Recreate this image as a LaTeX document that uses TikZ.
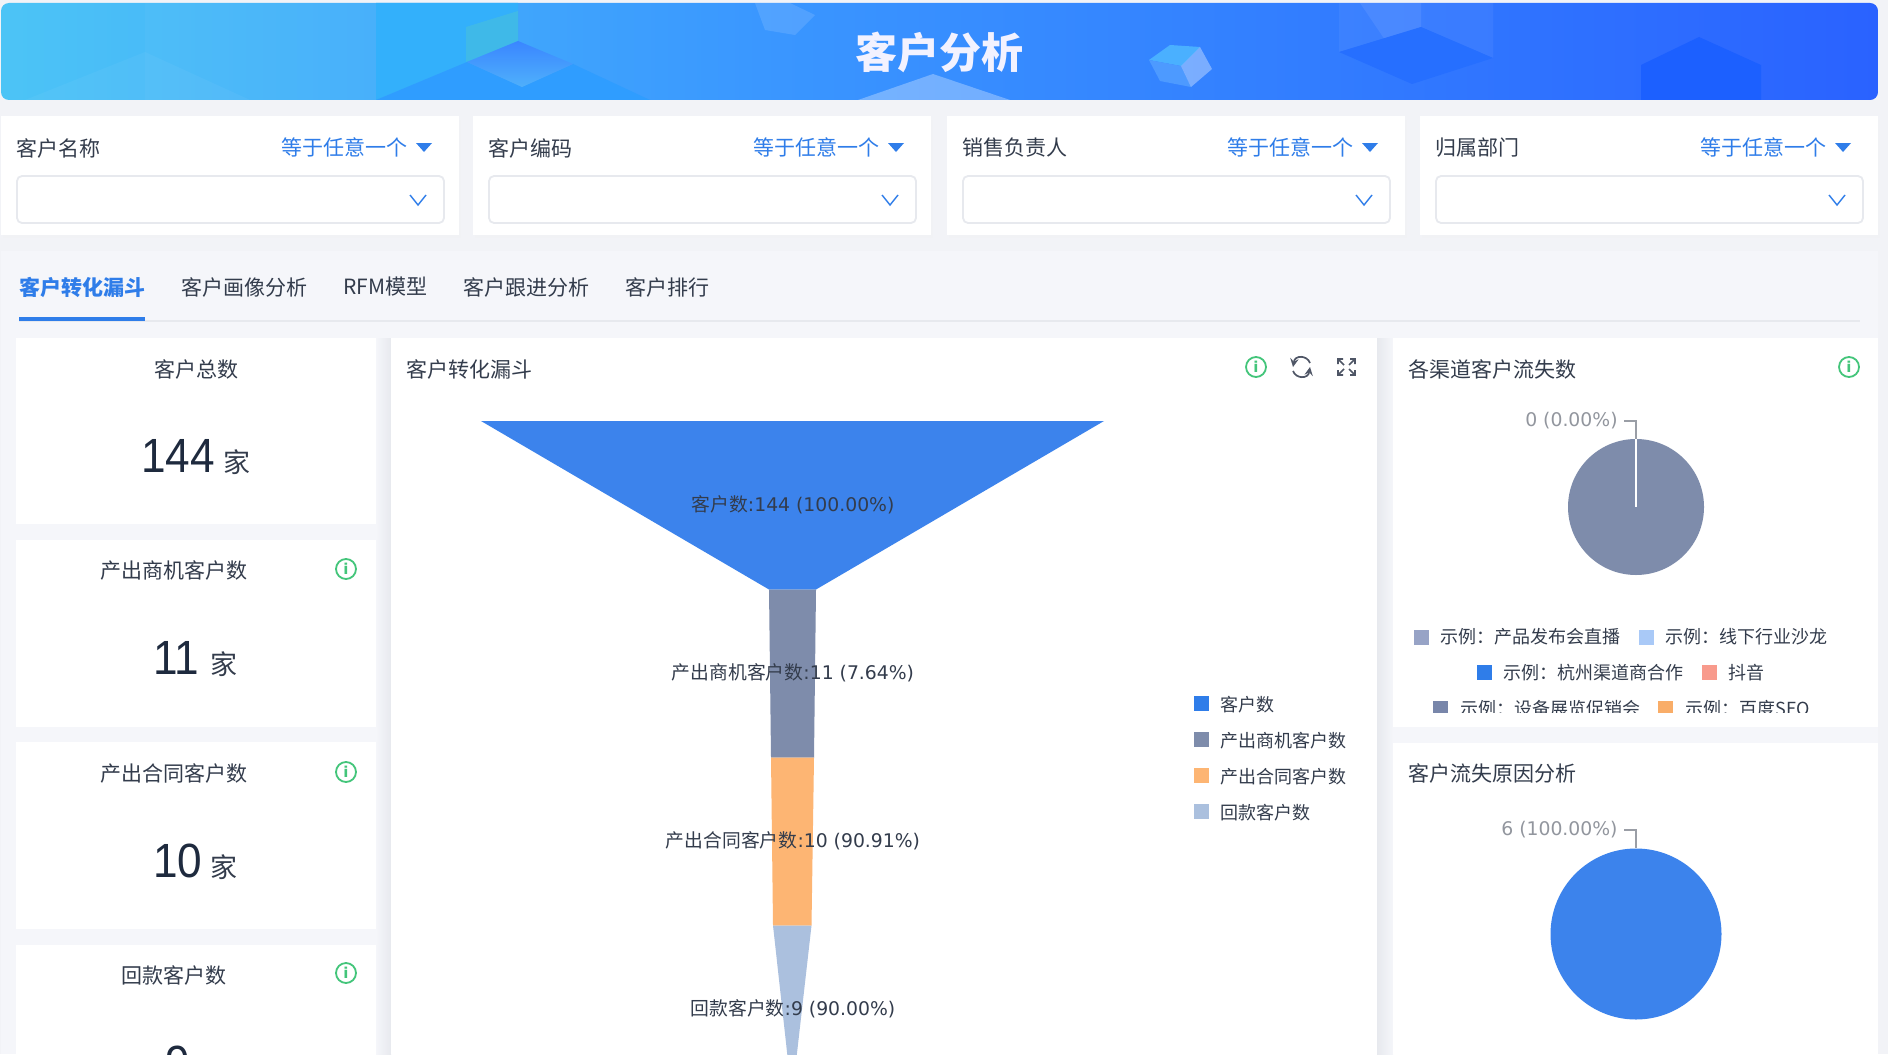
\documentclass[tikz,border=0pt]{standalone}
\usepackage{fontspec}
\usetikzlibrary{positioning}
\newfontfamily\cjk{Noto Sans CJK SC}
\newfontfamily\dejav{DejaVu Sans}
\newfontfamily\numf{Liberation Sans}
\newcommand{\fs}[1]{\fontsize{#1}{#1}\selectfont}
\definecolor{pagebg}{HTML}{F2F3F7}
\definecolor{panelbg}{HTML}{F5F6FA}
\definecolor{edgegray}{HTML}{E7E9EE}
\definecolor{ink}{HTML}{333C4C}
\definecolor{inkdark}{HTML}{1E2A3E}
\definecolor{toolgray}{HTML}{4F5666}
\definecolor{linkblue}{HTML}{2F7DE9}
\definecolor{funA}{HTML}{3C83EC}
\definecolor{funB}{HTML}{7E8CAB}
\definecolor{funC}{HTML}{FDB573}
\definecolor{funD}{HTML}{ABC0DE}
\definecolor{okgreen}{HTML}{43C57A}
\definecolor{leadgray}{HTML}{9A9EA6}
\definecolor{hdA}{HTML}{4CC4F6}
\definecolor{hdB}{HTML}{3A97FF}
\definecolor{hdC}{HTML}{2A62FF}
\definecolor{hdBand}{HTML}{33B0FB}
\definecolor{hdGreen}{HTML}{48C0DC}
\definecolor{hdLow}{HTML}{2F9DFF}
\definecolor{hdDiaA}{HTML}{3A86FF}
\definecolor{hdDiaB}{HTML}{4FB0FB}
\definecolor{hdHex}{HTML}{266FFF}
\definecolor{hdHouse}{HTML}{1C60FF}
\definecolor{hdCubeA}{HTML}{4AB0FF}
\definecolor{hdCubeB}{HTML}{4D9AFF}
\tikzset{
	card/.style={fill=white,draw=none},
	ttl/.style={font=\cjk\fs{10.5},text=ink,inner sep=0pt},
	lgd/.style={font=\cjk\fs{9},text=ink,inner sep=0pt,anchor=west},
	chartlbl/.style={font=\fs{9.4},text=ink,inner sep=0pt},
	pielbl/.style={font=\dejav\fs{9.4},text=leadgray!95!black,inner sep=0pt,anchor=east},
	bignum/.style={font=\numf\fs{24},text=inkdark,inner sep=0pt,anchor=base west,transform shape,xscale=.92},
	unitlbl/.style={font=\cjk\fs{13.5},text=ink,inner sep=0pt,anchor=base west},
	infoicon/.style={circle,draw=okgreen,line width=.9pt,minimum size=10pt,inner sep=0pt,text=okgreen,font=\dejav\bfseries\fs{7.5}},
	swatch/.style={minimum size=7.5pt,inner sep=0pt,anchor=west},
	toolline/.style={draw=toolgray,line width=.85pt}
}
\begin{document}
\begin{tikzpicture}[x=.5pt,y=-.5pt]
	\useasboundingbox (0,0) rectangle (1888,1054);
	\clip (0,0) rectangle (1888,1054);
	\fill[pagebg] (0,0) rectangle (1888,1054);
	\fill[panelbg] (1,251) rectangle (1878,1054);

	\begin{scope}
		\clip[rounded corners=4pt] (1,3) rectangle (1878,100);
		\shade[left color=hdA,right color=hdB] (1,3) rectangle (760,100);
		\shade[left color=hdB,right color=hdC] (760,3) rectangle (1878,100);
		\fill[white,opacity=.04] (25,100) -- (145,52) -- (250,100) -- cycle;
		\fill[white,opacity=.03] (145,3) rectangle (376,100);
		\fill[hdBand] (376,3) -- (518,3) -- (518,41) -- (376,100) -- cycle;
		\fill[hdGreen,opacity=.6] (466,27) -- (518,11) -- (518,41) -- (466,62) -- cycle;
		\fill[hdLow] (376,100) -- (467,62) -- (522,87) -- (573,64) -- (650,100) -- cycle;
		\shade[top color=hdDiaA,bottom color=hdDiaB] (518,41) -- (573,64) -- (522,87) -- (467,62) -- cycle;
		\fill[white,opacity=.12] (755,3) -- (790,3) -- (815,15) -- (795,35) -- (765,30) -- cycle;
		\fill[white,opacity=.3] (858,100) -- (933,74) -- (1010,100) -- cycle;
		\fill[hdCubeA] (1149,60) -- (1170,45) -- (1200,47) -- (1181,66) -- cycle;
		\fill[hdCubeB] (1149,60) -- (1181,66) -- (1191,87) -- (1160,81) -- cycle;
		\fill[white,opacity=.35] (1200,47) -- (1212,69) -- (1191,87) -- (1181,66) -- cycle;
		\fill[white,opacity=.05] (1339,52) -- (1339,3) -- (1493,3) -- (1493,58) -- (1421,27) -- cycle;
		\fill[white,opacity=.08] (1360,3) -- (1421,3) -- (1421,27) -- (1385,40) -- cycle;
		\fill[hdHex] (1339,52) -- (1421,27) -- (1493,58) -- (1412,84) -- cycle;
		\fill[hdHouse] (1641,100) -- (1641,65) -- (1699,37) -- (1761,65) -- (1761,100) -- cycle;
	\end{scope}
	\node[font=\cjk\bfseries\fs{21},text=white!95!blue,inner sep=0pt] (pagetitle) at (939,52) {客户分析};

	\foreach \cx/\lab/\n in {1/客户名称/a,473/客户编码/b,947/销售负责人/c,1420/归属部门/d}{
		\fill[edgegray!60] (\cx+2,120) rectangle (\cx+460,238);
		\fill[card] (\cx,116) rectangle (\cx+458,235);
		\node[ttl,anchor=west] (flt\n) at (\cx+15,148) {\lab};
		\node[ttl,anchor=west,text=linkblue] (mode\n) at (\cx+280,147) {等于任意一个};
		\fill[linkblue] (\cx+415,143) -- (\cx+431,143) -- (\cx+423,152) -- cycle;
		\draw[edgegray,line width=.9pt,fill=white,rounded corners=2.5pt] (\cx+16,176) rectangle (\cx+443,223);
		\draw[linkblue,line width=.7pt] (\cx+409,195) -- (\cx+417,205) -- (\cx+425,195);
	}

	\node[ttl,anchor=west,text=linkblue,font=\cjk\bfseries\fs{10.5}] (tabA) at (19,287) {客户转化漏斗};
	\node[ttl,anchor=west] (tabB) at (181,287) {客户画像分析};
	\node[ttl,anchor=west] (tabC) at (343,287) {RFM模型};
	\node[ttl,anchor=west] (tabD) at (463,287) {客户跟进分析};
	\node[ttl,anchor=west] (tabE) at (625,287) {客户排行};
	\fill[edgegray] (19,320) rectangle (1860,322);
	\fill[linkblue] (19,317) rectangle (145,321);

	\fill[card] (16,338) rectangle (376,524);
	\fill[card] (16,540) rectangle (376,727);
	\fill[card] (16,742) rectangle (376,929);
	\fill[card] (16,945) rectangle (376,1054);
	\shade[left color=panelbg,right color=edgegray] (376,338) rectangle (391,1054);
	\shade[left color=edgegray,right color=panelbg] (1377,338) rectangle (1393,1054);
	\fill[card] (391,338) rectangle (1377,1054);
	\fill[card] (1393,338) rectangle (1878,727);
	\fill[card] (1393,743) rectangle (1878,1054);

	\node[ttl] (kpiA) at (196,369) {客户总数};
	\node[bignum] (numA) at (141,472) {144};
	\node[unitlbl] (unitA) at (223,472) {家};
	\node[ttl] (kpiB) at (173.5,570) {产出商机客户数};
	\node[infoicon] (infoB) at (346,569) {i};
	\node[bignum] (numB) at (153,674) {11};
	\node[unitlbl] (unitB) at (210,674) {家};
	\node[ttl] (kpiC) at (173.5,773) {产出合同客户数};
	\node[infoicon] (infoC) at (346,772) {i};
	\node[bignum] (numC) at (153,877) {10};
	\node[unitlbl] (unitC) at (210,877) {家};
	\node[ttl] (kpiD) at (174,975) {回款客户数};
	\node[infoicon] (infoD) at (346,973) {i};
	\node[bignum] (numD) at (165,1079) {9};

	\node[ttl,anchor=west] (funtitle) at (406,369) {客户转化漏斗};
	\node[infoicon] (infoF) at (1256,367) {i};
	\draw[toolline,->,>=stealth] (1310,363) .. controls (1307,355) and (1295,355) .. (1293,367);
	\draw[toolline,->,>=stealth] (1293,371) .. controls (1296,379) and (1308,379) .. (1310,367);
	\draw[toolline] (1343,359) -- (1338,359) -- (1338,364) (1350,359) -- (1355,359) -- (1355,364)
		(1338,370) -- (1338,375) -- (1343,375) (1355,370) -- (1355,375) -- (1350,375)
		(1338,359) -- (1344,365) (1355,359) -- (1349,365) (1338,375) -- (1344,369) (1355,375) -- (1349,369);

	\fill[funA] (481,421) -- (1104,421) -- (816,589.5) -- (769,589.5) -- cycle;
	\fill[funB] (769,589.5) -- (816,589.5) -- (814,757.5) -- (771,757.5) -- cycle;
	\fill[funC] (771,757.5) -- (814,757.5) -- (811.5,925.5) -- (773,925.5) -- cycle;
	\fill[funD] (773,925.5) -- (811.5,925.5) -- (792,1097) -- cycle;
	\node[chartlbl] (funlblA) at (793,505) {{\cjk 客户数}{\dejav :144 (100.00\%)}};
	\node[chartlbl] (funlblB) at (793,672.5) {{\cjk 产出商机客户数}{\dejav :11 (7.64\%)}};
	\node[chartlbl] (funlblC) at (793,840.5) {{\cjk 产出合同客户数}{\dejav :10 (90.91\%)}};
	\node[chartlbl] (funlblD) at (793,1008.5) {{\cjk 回款客户数}{\dejav :9 (90.00\%)}};

	\foreach \ry/\col/\lab/\n in {703/linkblue/客户数/a,739/funB/产出商机客户数/b,775/funC/产出合同客户数/c,811/funD/回款客户数/d}{
		\node[swatch,fill=\col] (swF\n) at (1194,\ry) {};
		\node[lgd] (lgF\n) at (1220,\ry+2) {\lab};
	}

	\node[ttl,anchor=west] (churntitle) at (1408,369) {各渠道客户流失数};
	\node[infoicon] (infoG) at (1849,367) {i};
	\node[circle,fill=funB,minimum size=68pt,inner sep=0pt] (pieA) at (1636,507) {};
	\draw[white,line width=1pt] (pieA.north) -- (pieA.center);
	\node[pielbl] (pielblA) at (1618,421) {0 (0.00\%)};
	\draw[leadgray,line width=.8pt] ([xshift=3pt]pielblA.east) -| (pieA.north);

	\foreach \sx/\sy/\col/\n in {1414/637/97A3C6/a,1639/637/A9C9F7/b,1477/672.5/2F7DE9/c,1702/672.5/F89A8C/d}{
		\definecolor{swcol}{HTML}{\col}
		\node[swatch,fill=swcol] (swG\n) at (\sx,\sy) {};
	}
	\node[lgd] (lgGa) at (1440,637) {示例：产品发布会直播};
	\node[lgd] (lgGb) at (1665,637) {示例：线下行业沙龙};
	\node[lgd] (lgGc) at (1503,672.5) {示例：杭州渠道商合作};
	\node[lgd] (lgGd) at (1728,672.5) {抖音};
	\begin{scope}
		\clip (1400,690) rectangle (1870,712);
		\definecolor{swE}{HTML}{7886AA}
		\definecolor{swF}{HTML}{F9AD68}
		\node[swatch,fill=swE] (swGe) at (1433,708.5) {};
		\node[swatch,fill=swF] (swGf) at (1658,708.5) {};
		\node[lgd] (lgGe) at (1460,708.5) {示例：设备展览促销会};
		\node[lgd] (lgGf) at (1685,708.5) {示例：百度SEO};
	\end{scope}

	\node[ttl,anchor=west] (reasontitle) at (1408,773) {客户流失原因分析};
	\node[circle,fill=funA,minimum size=85.5pt,inner sep=0pt] (pieB) at (1636,934) {};
	\node[pielbl] (pielblB) at (1618,830) {6 (100.00\%)};
	\draw[leadgray,line width=.8pt] ([xshift=3pt]pielblB.east) -| (pieB.north);
\end{tikzpicture}
\end{document}
